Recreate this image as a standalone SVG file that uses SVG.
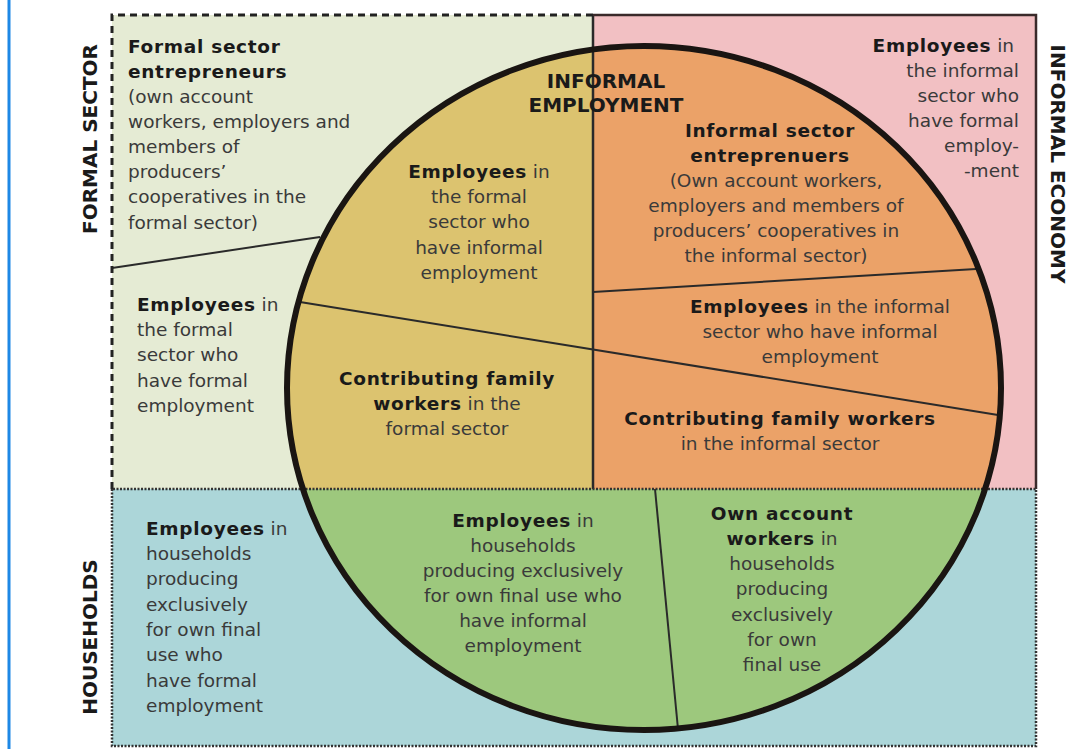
<svg xmlns="http://www.w3.org/2000/svg" width="1070" height="749" viewBox="0 0 1070 749">
<style>
text{font-family:"DejaVu Sans","Liberation Sans",sans-serif;font-size:18.5px;fill:#3a3a3a}
.b{font-weight:bold;fill:#1a1a1a;letter-spacing:0.7px}
.c{text-anchor:middle}
.r{text-anchor:end}
.lab{font-weight:bold;font-size:20px;fill:#1a1a1a;text-anchor:middle}
.thin{stroke:#2a2a2a;stroke-width:2;fill:none}
</style>
<defs>
<clipPath id="ell"><ellipse cx="644" cy="388" rx="357" ry="342"/></clipPath>
</defs>
<rect x="0" y="0" width="1070" height="749" fill="#ffffff"/>
<line x1="9" y1="0" x2="9" y2="749" stroke="#1e88e5" stroke-width="3"/>

<g id="formal-sector">
<rect x="112" y="15" width="481" height="474" fill="#e5ebd4"/>
</g>
<g id="informal-economy">
<rect x="593" y="15" width="443" height="474" fill="#f2c0c3"/>
</g>
<g id="households">
<rect x="112" y="489" width="924" height="257" fill="#acd6d9"/>
</g>

<g id="informal-employment">
<g clip-path="url(#ell)">
<rect x="280" y="40" width="313" height="449" fill="#dcc36f"/>
<rect x="593" y="40" width="420" height="449" fill="#eba268"/>
<rect x="280" y="489" width="730" height="250" fill="#9dc87d"/>
</g>
</g>

<g id="connectors">
<line x1="112" y1="268" x2="320" y2="237" class="thin"/>
<line x1="300" y1="302" x2="998" y2="415" class="thin"/>
<line x1="593" y1="292" x2="976" y2="269" class="thin"/>
<line x1="655" y1="489" x2="678" y2="729" class="thin"/>
<line x1="593" y1="15" x2="593" y2="489" stroke="#2a2a2a" stroke-width="2.5"/>
<path d="M112 489 V15 H593" fill="none" stroke="#222" stroke-width="3" stroke-dasharray="7 5"/>
<path d="M593 15 H1036 V489" fill="none" stroke="#3a2a2a" stroke-width="2.5"/>
<path d="M112 489 V746 H1036 V489 H112" fill="none" stroke="#333" stroke-width="2.5" stroke-dasharray="2 1.5"/>
<ellipse cx="644" cy="388" rx="357" ry="342" fill="none" stroke="#1a1512" stroke-width="6"/>
</g>

<g id="label-formal-sector"><text class="lab" transform="translate(97 139) rotate(-90)">FORMAL SECTOR</text></g>
<g id="label-informal-economy"><text class="lab" transform="translate(1051 164) rotate(90)">INFORMAL ECONOMY</text></g>
<g id="label-households"><text class="lab" transform="translate(97 637) rotate(-90)">HOUSEHOLDS</text></g>
<g id="label-informal-employment">
<text class="lab" x="606" y="88">INFORMAL</text>
<text class="lab" x="606" y="112">EMPLOYMENT</text>
</g>

<g id="formal-entrepreneurs">
<text x="128" y="53" class="b">Formal sector</text>
<text x="128" y="78" class="b">entrepreneurs</text>
<text x="128" y="103">(own account</text>
<text x="128" y="128">workers, employers and</text>
<text x="128" y="153">members of</text>
<text x="128" y="178">producers’</text>
<text x="128" y="203">cooperatives in the</text>
<text x="128" y="229">formal sector)</text>
</g>

<g id="formal-employees-informal">
<text x="479" y="178" class="c"><tspan class="b">Employees</tspan> in</text>
<text x="479" y="203" class="c">the formal</text>
<text x="479" y="228" class="c">sector who</text>
<text x="479" y="254" class="c">have informal</text>
<text x="479" y="279" class="c">employment</text>
</g>

<g id="informal-entrepreneurs">
<text x="770" y="137" class="c b">Informal sector</text>
<text x="770" y="162" class="c b">entreprenuers</text>
<text x="776" y="187" class="c">(Own account workers,</text>
<text x="776" y="212" class="c">employers and members of</text>
<text x="776" y="237" class="c">producers’ cooperatives in</text>
<text x="776" y="262" class="c">the informal sector)</text>
</g>

<g id="informal-sector-formal-employees">
<text x="1014" y="52" class="r"><tspan class="b">Employees</tspan> in</text>
<text x="1019" y="77" class="r">the informal</text>
<text x="1019" y="102" class="r">sector who</text>
<text x="1019" y="127" class="r">have formal</text>
<text x="1019" y="152" class="r">employ-</text>
<text x="1019" y="177" class="r">-ment</text>
</g>

<g id="formal-employees-formal">
<text x="137" y="311"><tspan class="b">Employees</tspan> in</text>
<text x="137" y="336">the formal</text>
<text x="137" y="361">sector who</text>
<text x="137" y="387">have formal</text>
<text x="137" y="412">employment</text>
</g>

<g id="formal-family-workers">
<text x="447" y="385" class="c b">Contributing family</text>
<text x="447" y="410" class="c"><tspan class="b">workers</tspan> in the</text>
<text x="447" y="435" class="c">formal sector</text>
</g>

<g id="informal-employees-informal">
<text x="820" y="313" class="c"><tspan class="b">Employees</tspan> in the informal</text>
<text x="820" y="338" class="c">sector who have informal</text>
<text x="820" y="363" class="c">employment</text>
</g>

<g id="informal-family-workers">
<text x="780" y="425" class="c b">Contributing family workers</text>
<text x="780" y="450" class="c">in the informal sector</text>
</g>

<g id="household-employees-formal">
<text x="146" y="535"><tspan class="b">Employees</tspan> in</text>
<text x="146" y="560">households</text>
<text x="146" y="585">producing</text>
<text x="146" y="611">exclusively</text>
<text x="146" y="636">for own final</text>
<text x="146" y="661">use who</text>
<text x="146" y="687">have formal</text>
<text x="146" y="712">employment</text>
</g>

<g id="household-employees-informal">
<text x="523" y="527" class="c"><tspan class="b">Employees</tspan> in</text>
<text x="523" y="552" class="c">households</text>
<text x="523" y="577" class="c">producing exclusively</text>
<text x="523" y="602" class="c">for own final use who</text>
<text x="523" y="627" class="c">have informal</text>
<text x="523" y="652" class="c">employment</text>
</g>

<g id="household-own-account">
<text x="782" y="520" class="c b">Own account</text>
<text x="782" y="545" class="c"><tspan class="b">workers</tspan> in</text>
<text x="782" y="570" class="c">households</text>
<text x="782" y="595" class="c">producing</text>
<text x="782" y="621" class="c">exclusively</text>
<text x="782" y="646" class="c">for own</text>
<text x="782" y="671" class="c">final use</text>
</g>
</svg>
